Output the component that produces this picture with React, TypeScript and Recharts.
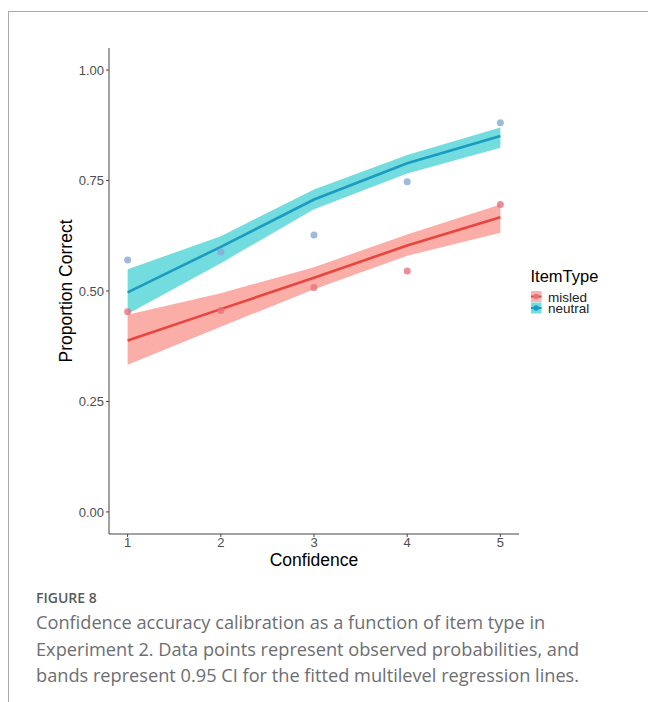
import { Area, ComposedChart, Label, Line, Scatter, XAxis, YAxis } from 'recharts';

const confidence = [1, 2, 3, 4, 5];

const neutralObs = [0.570, 0.588, 0.627, 0.747, 0.881];
const neutralFit = [0.497, 0.600, 0.707, 0.789, 0.851];
const neutralLo = [0.448, 0.563, 0.685, 0.766, 0.824];
const neutralHi = [0.549, 0.624, 0.730, 0.808, 0.870];

const misledObs = [0.453, 0.456, 0.508, 0.545, 0.696];
const misledFit = [0.388, 0.459, 0.530, 0.603, 0.667];
const misledLo = [0.333, 0.419, 0.504, 0.580, 0.632];
const misledHi = [0.446, 0.495, 0.554, 0.628, 0.696];

const yTicks = [0, 0.25, 0.5, 0.75, 1];
const legendItems = ['misled', 'neutral'];

const data = confidence.map((x, i) => ({
  x,
  nObs: neutralObs[i],
  nFit: neutralFit[i],
  nBand: [neutralLo[i], neutralHi[i]],
  mObs: misledObs[i],
  mFit: misledFit[i],
  mBand: [misledLo[i], misledHi[i]],
}));

const RED_BAND = '#F8766D';
const TEAL_BAND = '#00BFC4';
const RED_LINE = '#E8453E';
const TEAL_LINE = '#1A9BBF';
const RED_PT = '#E8707A';
const BLUE_PT = '#86A9D6';

const keyStyles = [
  { band: RED_BAND, line: RED_LINE, pt: RED_PT },
  { band: TEAL_BAND, line: TEAL_LINE, pt: TEAL_LINE },
];

const FONT = 'Liberation Sans, Arial, sans-serif';
const axisFont = { fontFamily: FONT };

function Legend() {
  return (
    <svg width={120} height={62} style={{ position: 'absolute', left: 520, top: 265 }}>
      <text x={10.5} y={17} fontSize={16.5} fontFamily={FONT} fill="#000">ItemType</text>
      {legendItems.map((name, i) => {
        const k = keyStyles[i];
        const y0 = 26 + i * 11.5;
        return (
          <g key={name}>
            <rect x={11} y={y0} width={10.5} height={11} fill={k.band} fillOpacity={0.55} />
            <line x1={11} y1={y0 + 5.5} x2={21.5} y2={y0 + 5.5} stroke={k.line} strokeWidth={2} />
            <circle cx={16.2} cy={y0 + 5.5} r={2.8} fill={k.pt} />
            <text x={28} y={y0 + 10.5} fontSize={13.5} fontFamily={FONT} fill="#222">{name}</text>
          </g>
        );
      })}
    </svg>
  );
}

export default function App() {
  return (
    <div style={{ position: 'absolute', left: 0, top: 0, width: 648, height: 702, background: '#fff' }}>
      <div style={{ position: 'absolute', left: 8, top: 11, width: 640, height: 1, background: '#a9a9a9' }} />
      <div style={{ position: 'absolute', left: 8, top: 11, width: 1, height: 691, background: '#a9a9a9' }} />

      <div style={{ position: 'absolute', left: 0, top: 0 }}>
        <ComposedChart width={648} height={580} data={data} margin={{ top: 48, right: 129, bottom: 6, left: 0 }}>
          <XAxis
            type="number"
            dataKey="x"
            domain={[0.8, 5.2]}
            ticks={confidence}
            allowDataOverflow
            height={40}
            tickSize={3}
            tickMargin={1}
            stroke="#444"
            tick={{ fill: '#4d4d4d', fontSize: 13, ...axisFont }}
          >
            <Label
              value="Confidence"
              position="insideBottom"
              offset={8}
              style={{ fill: '#000', fontSize: 17.5, ...axisFont }}
            />
          </XAxis>
          <YAxis
            type="number"
            domain={[-0.05, 1.05]}
            ticks={yTicks}
            allowDataOverflow
            width={109}
            tickSize={3}
            tickMargin={2}
            stroke="#444"
            tickFormatter={(v: number) => v.toFixed(2)}
            tick={{ fill: '#4d4d4d', fontSize: 13, ...axisFont }}
          >
            <Label
              value="Proportion Correct"
              angle={-90}
              position="insideLeft"
              offset={66}
              style={{ textAnchor: 'middle', fill: '#000', fontSize: 17.5, ...axisFont }}
            />
          </YAxis>

          <Area dataKey="mBand" type="linear" stroke="none" fill={RED_BAND} fillOpacity={0.6} isAnimationActive={false} />
          <Area dataKey="nBand" type="linear" stroke="none" fill={TEAL_BAND} fillOpacity={0.55} isAnimationActive={false} />

          <Scatter dataKey="mObs" fill={RED_PT} shape={(p: any) => <circle cx={p.cx} cy={p.cy} r={3.5} fill={RED_PT} fillOpacity={0.8} />} isAnimationActive={false} />
          <Scatter dataKey="nObs" fill={BLUE_PT} shape={(p: any) => <circle cx={p.cx} cy={p.cy} r={3.5} fill={BLUE_PT} fillOpacity={0.8} />} isAnimationActive={false} />

          <Line dataKey="mFit" type="linear" stroke={RED_LINE} strokeWidth={2.6} dot={false} isAnimationActive={false} />
          <Line dataKey="nFit" type="linear" stroke={TEAL_LINE} strokeWidth={2.6} dot={false} isAnimationActive={false} />
        </ComposedChart>
      </div>

      <Legend />

      <div style={{ position: 'absolute', left: 36, top: 588, fontFamily: 'Open Sans, sans-serif', fontWeight: 600, fontSize: 14, color: '#58595b' }}>
        FIGURE 8
      </div>
      <div style={{ position: 'absolute', left: 36, top: 609, fontFamily: 'Open Sans, sans-serif', fontSize: 18.2, lineHeight: '26.5px', color: '#6d6e71', whiteSpace: 'nowrap' }}>
        <div>Confidence accuracy calibration as a function of item type in</div>
        <div>Experiment 2. Data points represent observed probabilities, and</div>
        <div>bands represent 0.95 CI for the fitted multilevel regression lines.</div>
      </div>
    </div>
  );
}
